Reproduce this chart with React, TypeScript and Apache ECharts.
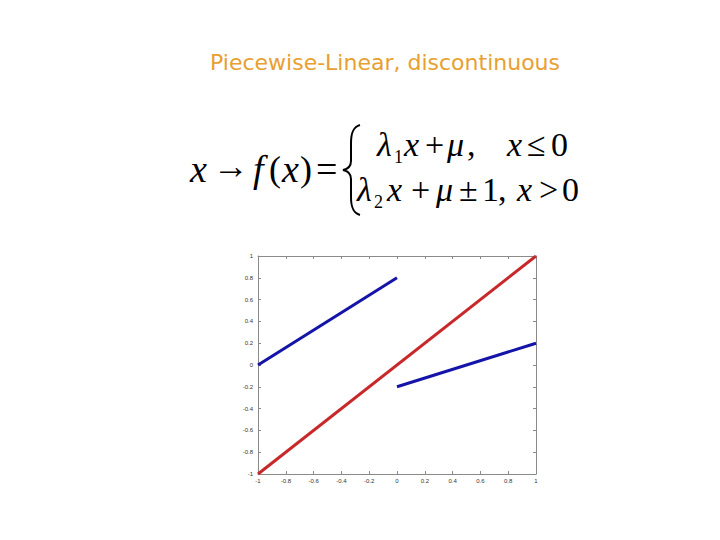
import React, { useEffect, useRef } from "react";
import * as echarts from "echarts";

// Data
const identityX = [-1, 1];
const identityY = [-1, 1];
const leftX = [-1, 0];
const leftY = [0, 0.8];
const rightX = [0, 1];
const rightY = [-0.2, 0.2];

const titleText = "Piecewise-Linear, discontinuous";

const BRACE =
  "M17 0 C10 2 8 8 8 18 L8 36 C8 41 5 44 0 45 C5 46 8 49 8 54 L8 72 C8 82 10 88 17 90";

let registered = false;
function registerBrace() {
  if (registered) return;
  echarts.graphic.registerShape("brace", echarts.graphic.extendPath(BRACE, {}) as any);
  registered = true;
}

const SERIF = "'Liberation Serif', 'DejaVu Serif', serif";

function piece(text: string, x: number, y: number, size: number, italic = false) {
  return {
    type: "text",
    x,
    y,
    silent: true,
    style: {
      text,
      fontFamily: SERIF,
      fontSize: size,
      fontStyle: italic ? "italic" : "normal",
      fill: "#000",
      textAlign: "left",
      align: "left",
      textVerticalAlign: "middle",
      verticalAlign: "middle",
    },
  };
}

const pairs = (xs: number[], ys: number[]) => xs.map((x, i) => [x, ys[i]]);
const fmt = (v: number) => String(Math.round(v * 10) / 10);

export default function App() {
  const ref = useRef<HTMLDivElement>(null);
  useEffect(() => {
    if (!ref.current) return;
    registerBrace();
    const chart = echarts.init(ref.current, null, { renderer: "svg" });
    const axisLine = { show: true, onZero: false, lineStyle: { color: "#8a8a8a", width: 1 } };
    const axisTick = { show: true, inside: true, length: 3, lineStyle: { color: "#8a8a8a" } };
    const baseAxis = {
      type: "value",
      min: -1,
      max: 1,
      interval: 0.2,
      splitLine: { show: false },
      axisLine,
      axisTick,
    };
    chart.setOption({
      animation: false,
      backgroundColor: "#ffffff",
      grid: { left: 258, top: 256, width: 278, height: 218, show: false },
      xAxis: [
        {
          ...baseAxis,
          position: "bottom",
          axisLabel: { fontSize: 6, color: "#333", margin: 4, formatter: fmt },
        },
        { ...baseAxis, position: "top", axisLabel: { show: false } },
      ],
      yAxis: [
        {
          ...baseAxis,
          position: "left",
          axisLabel: { fontSize: 6, color: "#333", margin: 5, formatter: fmt },
        },
        { ...baseAxis, position: "right", axisLabel: { show: false } },
      ],
      series: [
        {
          type: "line",
          data: pairs(identityX, identityY),
          showSymbol: false,
          lineStyle: { color: "#c8282a", width: 3 },
          silent: true,
        },
        {
          type: "line",
          data: pairs(leftX, leftY),
          showSymbol: false,
          lineStyle: { color: "#1414a8", width: 3 },
          silent: true,
        },
        {
          type: "line",
          data: pairs(rightX, rightY),
          showSymbol: false,
          lineStyle: { color: "#1414a8", width: 3 },
          silent: true,
        },
      ],
      graphic: [
        {
          type: "text",
          x: 385,
          y: 62,
          silent: true,
          style: {
            text: titleText,
            fontFamily: "'DejaVu Sans', sans-serif",
            fontSize: 22,
            fill: "#e8a030",
            textAlign: "center",
            align: "center",
            textVerticalAlign: "middle",
            verticalAlign: "middle",
          },
        },
        // left side: x -> f(x) =
        piece("x", 190, 169, 38, true),
        piece("\u2192", 213, 166, 36),
        piece("f", 253, 169, 38, true),
        piece("(", 269, 169, 36),
        piece("x", 282, 169, 38, true),
        piece(")", 300, 169, 36),
        piece("=", 316, 169, 38),
        {
          type: "brace",
          x: 343,
          y: 125,
          silent: true,
          style: { fill: "none", stroke: "#000", lineWidth: 2 },
        },
        // line 1
        piece("\u03bb", 377, 144, 34, true),
        piece("1", 394, 157, 18),
        piece("x", 404, 144, 34, true),
        piece("+", 425, 144, 34),
        piece("\u03bc", 447, 144, 34, true),
        piece(",", 467, 144, 34),
        piece("x", 507, 144, 34, true),
        piece("\u2264", 527, 144, 34),
        piece("0", 551, 144, 34),
        // line 2
        piece("\u03bb", 357, 189, 34, true),
        piece("2", 374, 202, 18),
        piece("x", 387, 189, 34, true),
        piece("+", 411, 189, 34),
        piece("\u03bc", 436, 189, 34, true),
        piece("\u00b1", 459, 189, 34),
        piece("1", 482, 189, 34),
        piece(",", 498, 189, 34),
        piece("x", 517, 189, 34, true),
        piece(">", 539, 189, 34),
        piece("0", 562, 189, 34),
      ],
    });
    return () => chart.dispose();
  }, []);
  return (
    <div
      ref={ref}
      style={{ position: "fixed", left: 0, top: 0, width: 720, height: 540 }}
    />
  );
}
